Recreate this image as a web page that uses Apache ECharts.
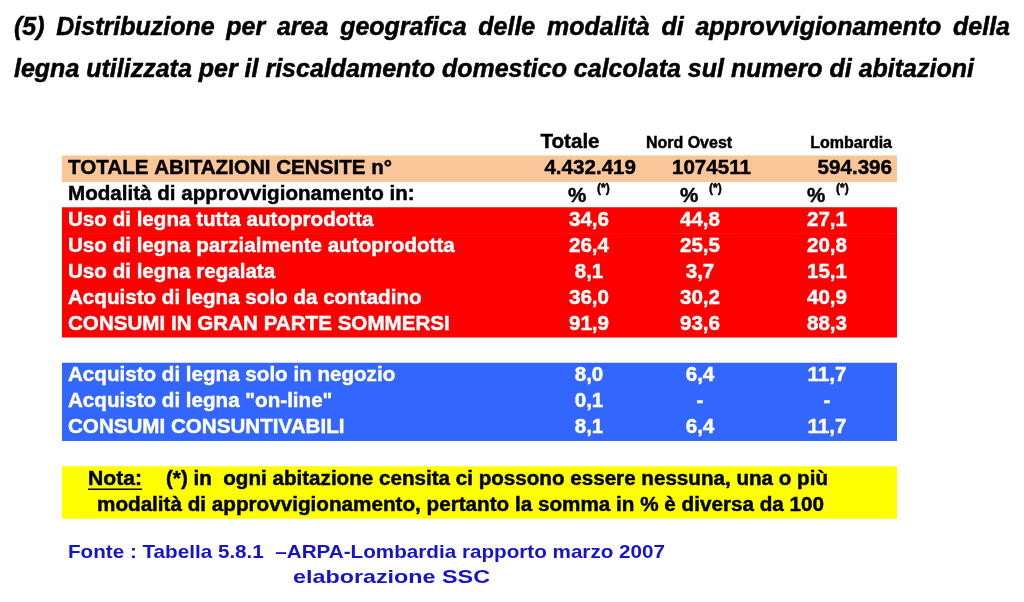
<!DOCTYPE html>
<html>
<head>
<meta charset="utf-8">
<script src="https://cdn.jsdelivr.net/npm/echarts@6/dist/echarts.min.js"></script>
<style>
  html, body { margin: 0; padding: 0; background: #fff; }
  #chart { width: 1024px; height: 602px; }
</style>
</head>
<body>
<div id="chart"></div>
<script>
// intestazioni
const titleLines = [
  '(5) Distribuzione per area geografica delle modalità di approvvigionamento della',
  'legna utilizzata per il riscaldamento domestico calcolata sul numero di abitazioni'
]
const areas = ['Totale', 'Nord Ovest', 'Lombardia']
const totalLabel = 'TOTALE ABITAZIONI CENSITE n°'
const totalValues = ['4.432.419', '1074511', '594.396']
const modeLabel = 'Modalità di approvvigionamento in:'

// blocco rosso: consumi in gran parte sommersi
const redLabels = [
  'Uso di legna tutta autoprodotta',
  'Uso di legna parzialmente autoprodotta',
  'Uso di legna regalata',
  'Acquisto di legna solo da contadino',
  'CONSUMI IN GRAN PARTE SOMMERSI'
]
const redTotale = [34.6, 26.4, 8.1, 36.0, 91.9]
const redNordOvest = [44.8, 25.5, 3.7, 30.2, 93.6]
const redLombardia = [27.1, 20.8, 15.1, 40.9, 88.3]

// blocco blu: consumi consuntivabili
const blueLabels = [
  'Acquisto di legna solo in negozio',
  'Acquisto di legna "on-line"',
  'CONSUMI CONSUNTIVABILI'
]
const blueTotale = [8.0, 0.1, 8.1]
const blueNordOvest = [6.4, null, 6.4]
const blueLombardia = [11.7, null, 11.7]

// nota e fonte
const noteHead = 'Nota:'
const noteLines = [
  '(*) in  ogni abitazione censita ci possono essere nessuna, una o più',
  'modalità di approvvigionamento, pertanto la somma in % è diversa da 100'
]
const sourceLines = [
  'Fonte : Tabella 5.8.1  –ARPA-Lombardia rapporto marzo 2007',
  'elaborazione SSC'
]

// colori e font
const RED = '#ff0000'
const BLUE = '#3366ff'
const PEACH = '#fac597'
const YELLOW = '#ffff00'
const SANS = '"Liberation Sans", Arial, sans-serif'
const F_CELL = 'bold 20.6px ' + SANS
const F_HEAD_S = 'bold 16px ' + SANS
const F_NOTE = 'bold 20px ' + SANS
const F_SRC = 'bold 19px ' + SANS

// layout della tabella (offset orizzontali dal bordo sinistro)
const TABLE_W = 835
const LABEL_X = 6
const VALUE_CX = [527, 638, 765]
const TOTAL_RX = [574, 689, 830]
const PCT_X = [506, 618, 745]

const fmt = v => (v == null ? '-' : v.toFixed(1).replace('.', ','))

// righe della tabella
const rows = []
rows.push({ kind: 'head' })
rows.push({ kind: 'total', bg: PEACH })
rows.push({ kind: 'mode' })
redLabels.forEach((l, i) => rows.push({ kind: 'val', bg: RED, label: l, values: [redTotale[i], redNordOvest[i], redLombardia[i]] }))
rows.push({ kind: 'blank' })
blueLabels.forEach((l, i) => rows.push({ kind: 'val', bg: BLUE, label: l, values: [blueTotale[i], blueNordOvest[i], blueLombardia[i]] }))
rows.push({ kind: 'blank' })
noteLines.forEach((l, i) => rows.push({ kind: 'note', bg: YELLOW, line: i }))

const measure = (() => {
  const ctx = document.createElement('canvas').getContext('2d')
  return (text, font) => { ctx.font = font; return ctx.measureText(text).width }
})()

// testo in grassetto leggermente ispessito, con eventuale compressione orizzontale
const txt = (x, y, text, font, fill, align, scaleX) => ({
  type: 'text', x, y,
  scaleX: scaleX || 1,
  style: { text, font, fill, stroke: fill, lineWidth: 0.45, align: align || 'left', verticalAlign: 'middle' }
})

// disegno di ogni riga
const renderRow = (params, api) => {
  const row = rows[params.dataIndex]
  const [x0, yc] = api.coord([0, params.dataIndex])
  const [x1] = api.coord([TABLE_W, params.dataIndex])
  const h = api.size([0, 1])[1]
  const px = v => api.coord([v, params.dataIndex])[0]
  const children = []
  if (row.bg) {
    children.push({
      type: 'rect',
      shape: { x: x0, y: yc - h / 2, width: x1 - x0, height: h + 0.6 },
      style: { fill: row.bg }
    })
  }
  if (row.kind === 'head') {
    children.push(txt(px(VALUE_CX[0] - 19), yc, areas[0], F_CELL, '#000', 'center'))
    children.push(txt(px(VALUE_CX[1] - 11), yc + 1, areas[1], F_HEAD_S, '#000', 'center'))
    children.push(txt(px(TOTAL_RX[2]), yc + 1, areas[2], F_HEAD_S, '#000', 'right'))
  } else if (row.kind === 'total') {
    children.push(txt(px(LABEL_X), yc, totalLabel, F_CELL, '#000'))
    totalValues.forEach((v, i) => children.push(txt(px(TOTAL_RX[i]), yc, v, F_CELL, '#000', 'right')))
  } else if (row.kind === 'mode') {
    children.push(txt(px(LABEL_X), yc, modeLabel, F_CELL, '#000'))
    PCT_X.forEach(x => {
      children.push(txt(px(x), yc + 2, '%', F_CELL, '#000'))
      children.push(txt(px(x + 29), yc - 6, '(*)', 'bold 12px ' + SANS, '#000'))
    })
  } else if (row.kind === 'val') {
    children.push(txt(px(LABEL_X), yc, row.label, F_CELL, '#fff'))
    row.values.forEach((v, i) => children.push(txt(px(VALUE_CX[i]), yc, fmt(v), F_CELL, '#fff', 'center')))
  } else if (row.kind === 'note') {
    if (row.line === 0) {
      const hx = px(26)
      const sh = 54 / measure(noteHead, F_NOTE)
      const s0 = 662 / measure(noteLines[0], F_NOTE)
      children.push(txt(hx, yc, noteHead, F_NOTE, '#000', 'left', sh))
      children.push({ type: 'line', shape: { x1: hx, y1: yc + 10, x2: hx + 54, y2: yc + 10 }, style: { stroke: '#000', lineWidth: 1.5 } })
      children.push(txt(px(104), yc, noteLines[0], F_NOTE, '#000', 'left', s0))
    } else {
      const s1 = 727 / measure(noteLines[1], F_NOTE)
      children.push(txt(px(35), yc, noteLines[1], F_NOTE, '#000', 'left', s1))
    }
  }
  return { type: 'group', children }
}

// titolo giustificato sulla prima riga
const TITLE_FONT = 'italic bold 25px ' + SANS
const words = titleLines[0].split(' ')
const wordsW = words.reduce((s, w) => s + measure(w, TITLE_FONT), 0)
const gapW = (996 - wordsW) / (words.length - 1)

const srcTargets = [597, 197]

const chart = echarts.init(document.getElementById('chart'))
chart.setOption({
  backgroundColor: '#fff',
  animation: false,
  title: {
    left: 14,
    top: 7,
    padding: 0,
    text: words.join('{g| }') + '\n' + titleLines[1],
    textStyle: {
      fontFamily: SANS,
      fontSize: 25,
      fontWeight: 'bold',
      fontStyle: 'italic',
      color: '#000',
      textBorderColor: '#000',
      textBorderWidth: 0.5,
      lineHeight: 42,
      rich: { g: { width: gapW, fontSize: 25, lineHeight: 42 } }
    }
  },
  grid: { left: 62, top: 129.6, width: TABLE_W, height: 388.5 },
  xAxis: { type: 'value', min: 0, max: TABLE_W, show: false },
  yAxis: {
    type: 'category',
    inverse: true,
    show: false,
    data: rows.map((r, i) => String(i))
  },
  series: [{
    type: 'custom',
    renderItem: renderRow,
    data: rows.map((r, i) => [0, i]),
    silent: true,
    clip: false
  }],
  graphic: sourceLines.map((t, i) => ({
    type: 'text',
    x: i === 0 ? 68 : 293,
    y: i === 0 ? 553 : 578,
    scaleX: srcTargets[i] / measure(t, F_SRC),
    style: { text: t, font: F_SRC, fill: '#1414cc', verticalAlign: 'middle' }
  }))
})
</script>
</body>
</html>
